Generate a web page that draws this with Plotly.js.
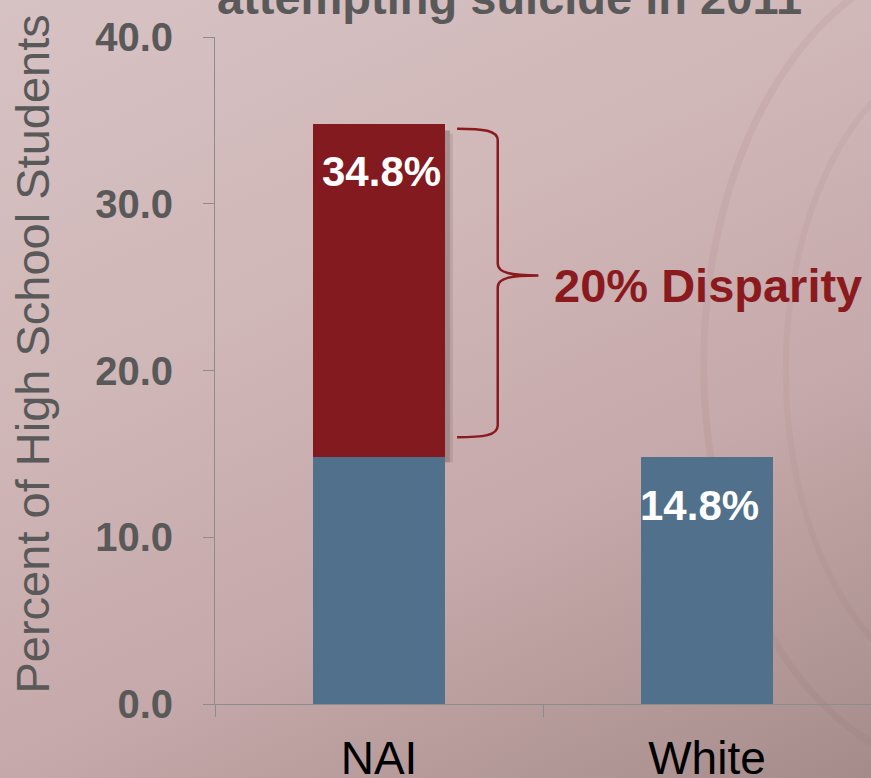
<!DOCTYPE html>
<html>
<head>
<meta charset="utf-8">
<script src="https://cdn.plot.ly/plotly-3.0.1.min.js"></script>
<style>
  html, body { margin: 0; padding: 0; }
  body {
    width: 871px; height: 778px; overflow: hidden;
    background: linear-gradient(155deg, #d7c2c3 0%, #d0b7b8 35%, #c6a9aa 65%, #a58c8a 100%);
  }
  #chart { width: 871px; height: 778px; }
</style>
</head>
<body>
<div id="chart"></div>
<script>
// ---- data ----
const categories = ["NAI", "White"];
const baseValues = [14.8, 14.8];       // blue segment (White rate level)
const disparityValues = [20.0, 0];     // red segment on top of NAI
const totalLabels = ["34.8%", "14.8%"];
const totals = [34.8, 14.8];
const yTickVals = [0, 10, 20, 30, 40];
const yTickText = ["0.0", "10.0", "20.0", "30.0", "40.0"];
const titleText = "attempting suicide in 2011";
const yTitleText = "Percent of High School Students";
const disparityText = "20% Disparity";

const FONT = 'Arial, "Liberation Sans", sans-serif';
const RED = "#821a1f";
const BLUE = "#51708b";
const GREY = "#595959";
const AXIS = "#8c8c8c";

const traces = [
  {
    type: "bar", x: categories, y: baseValues,
    marker: { color: BLUE, line: { width: 0 } },
    width: 0.4, hoverinfo: "skip", showlegend: false
  },
  {
    type: "bar", x: categories, y: disparityValues,
    marker: { color: RED, line: { width: 0 } },
    width: 0.4, hoverinfo: "skip", showlegend: false
  }
];

// brace spanning the disparity on NAI (data-y, paper-x)
const yTop = totals[0] - 0.3;
const yBot = baseValues[0] + 1.2;
const yTip = (yTop + yBot) / 2 + 0.45;
const xa = 0.369, xb = 0.431, xt = 0.493;
const r = 0.7; // in data units
const bracePath =
  `M ${xa},${yTop} C ${xa + 0.04},${yTop} ${xb},${yTop - 0.1} ${xb},${yTop - r} ` +
  `L ${xb},${yTip + r} C ${xb},${yTip + 0.15} ${xb + 0.02},${yTip} ${xt},${yTip} ` +
  `C ${xb + 0.02},${yTip} ${xb},${yTip - 0.15} ${xb},${yTip - r} ` +
  `L ${xb},${yBot + r} C ${xb},${yBot + 0.1} ${xa + 0.04},${yBot} ${xa},${yBot}`;

const annotations = [
  {
    text: titleText, xref: "paper", yref: "paper",
    x: 0.449, y: 1 + 11 / 667, xanchor: "center", yanchor: "bottom",
    showarrow: false, font: { family: FONT, size: 47, color: GREY, weight: "bold" }
  },
  {
    text: yTitleText, xref: "paper", yref: "paper",
    x: -0.2782, y: 0.5247, xanchor: "center", yanchor: "middle", textangle: -90,
    showarrow: false, font: { family: FONT, size: 47, color: GREY }
  },
  {
    text: disparityText, xref: "paper", yref: "y",
    x: 0.514, y: 25.1, xanchor: "left", yanchor: "middle",
    showarrow: false, font: { family: FONT, size: 47, color: "#8b1a1e", weight: "bold" }
  }
];
categories.forEach((c, i) => {
  annotations.push({
    text: totalLabels[i], x: c, y: totals[i], xref: "x", yref: "y",
    xanchor: "center", yanchor: "middle", yshift: -48, xshift: i === 1 ? -8 : 2,
    showarrow: false, font: { family: FONT, size: 42, color: "#ffffff", weight: "bold" }
  });
});

const layout = {
  width: 871, height: 778,
  margin: { l: 215, r: 0, t: 37, b: 74 },
  paper_bgcolor: "rgba(0,0,0,0)",
  plot_bgcolor: "rgba(0,0,0,0)",
  barmode: "stack",
  bargap: 0.6,
  font: { family: FONT, color: GREY },
  xaxis: {
    type: "category", range: [-0.5, 1.5],
    showline: true, linecolor: AXIS, linewidth: 1,
    ticks: "outside", tickson: "boundaries", ticklen: 12, tickcolor: AXIS,
    tickfont: { family: FONT, size: 46, color: "#000000" },
    ticklabelstandoff: 14,
    showgrid: false, zeroline: false, fixedrange: true
  },
  yaxis: {
    range: [0, 40], tickvals: yTickVals, ticktext: yTickText,
    showline: true, linecolor: AXIS, linewidth: 1,
    ticks: "outside", ticklen: 11, tickcolor: AXIS,
    tickfont: { family: FONT, size: 40, color: GREY, weight: "bold" },
    ticklabelstandoff: 22,
    showgrid: false, zeroline: false, fixedrange: true
  },
  shapes: [
    { type: "path", xref: "paper", yref: "y", path: bracePath,
      line: { color: "#8b1a1e", width: 2.5 }, fillcolor: "rgba(0,0,0,0)" },
    // soft drop shadow right of the red bar
    { type: "rect", xref: "paper", yref: "y", x0: 0.3506, x1: 0.358,
      y0: baseValues[0] - 0.3, y1: totals[0] - 0.4,
      fillcolor: "rgba(60,35,35,0.28)", line: { width: 0 }, layer: "below" },
    { type: "rect", xref: "paper", yref: "y", x0: 0.358, x1: 0.3625,
      y0: baseValues[0] - 0.3, y1: totals[0] - 0.6,
      fillcolor: "rgba(60,35,35,0.12)", line: { width: 0 }, layer: "below" },
    // faint watermark arcs
    { type: "circle", xref: "paper", yref: "paper", x0: 0.745, x1: 1.55, y0: -0.1, y1: 1.12,
      line: { color: "rgba(140,105,105,0.09)", width: 7 }, fillcolor: "rgba(0,0,0,0)", layer: "below" },
    { type: "circle", xref: "paper", yref: "paper", x0: 0.87, x1: 1.45, y0: 0.02, y1: 0.98,
      line: { color: "rgba(140,105,105,0.07)", width: 6 }, fillcolor: "rgba(0,0,0,0)", layer: "below" }
  ],
  annotations: annotations
};

Plotly.newPlot("chart", traces, layout, { displayModeBar: false, staticPlot: true });
</script>
</body>
</html>
